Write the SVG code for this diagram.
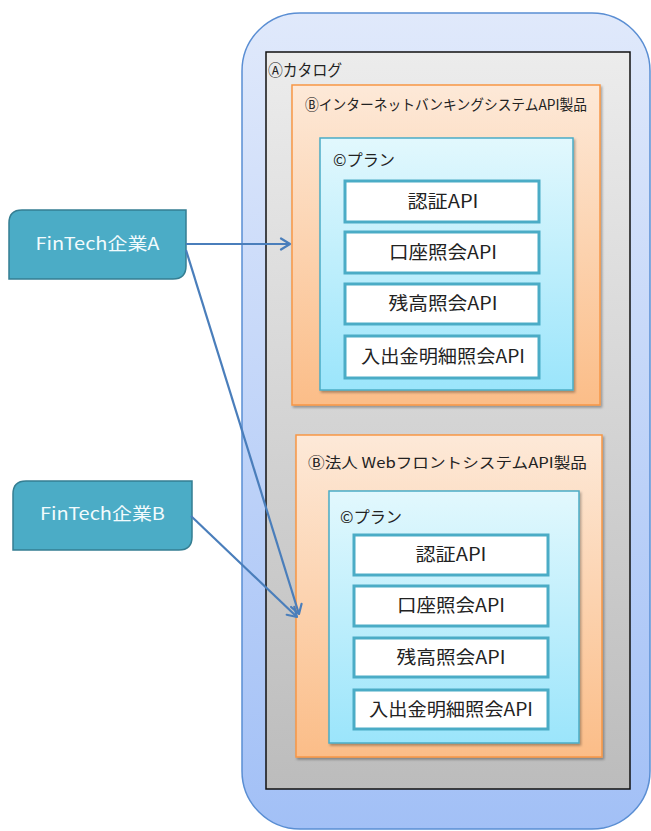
<svg xmlns="http://www.w3.org/2000/svg" width="651" height="831" viewBox="0 0 651 831">
<defs>
<linearGradient id="gBlue" x1="0" y1="0" x2="0" y2="1"><stop offset="0" stop-color="#e0e9fb"/><stop offset="1" stop-color="#a2c0f6"/></linearGradient>
<linearGradient id="gGray" x1="0" y1="0" x2="0" y2="1"><stop offset="0" stop-color="#ececec"/><stop offset="1" stop-color="#bcbcbc"/></linearGradient>
<linearGradient id="gOrange" x1="0" y1="0" x2="0" y2="1"><stop offset="0" stop-color="#fde9d8"/><stop offset="1" stop-color="#fbbd88"/></linearGradient>
<linearGradient id="gCyan" x1="0" y1="0" x2="0" y2="1"><stop offset="0" stop-color="#e2f8fd"/><stop offset="1" stop-color="#9be5fb"/></linearGradient>
<filter id="sh" x="-10%" y="-10%" width="120%" height="120%"><feDropShadow dx="1.5" dy="2" stdDeviation="1.2" flood-color="#000" flood-opacity="0.3"/></filter>
<marker id="arr" markerUnits="userSpaceOnUse" markerWidth="14" markerHeight="14" refX="11" refY="7" orient="auto"><path d="M2,1.5 L11,7 L2,12.5" fill="none" stroke="#4a7ebb" stroke-width="2.2" stroke-linecap="round" stroke-linejoin="round"/></marker>
</defs>
<style>
text{font-family:"Meiryo","Noto Sans CJK JP","Noto Sans",sans-serif;fill:#222}
.orange{fill:url(#gOrange);stroke:#f79646;stroke-width:1.5}
.cyan{fill:url(#gCyan);stroke:#4bacc6;stroke-width:1.5}
.api{fill:#fff;stroke:#4bacc6;stroke-width:3}
.apit{font-size:18px;text-anchor:middle}
.hd{font-size:14.5px}
.ft{fill:#4bacc6;stroke:#357e92;stroke-width:1.5}
.ftt{font-size:17px;fill:#f2fbfd;text-anchor:middle}
.conn{fill:none;stroke:#4a7ebb;stroke-width:2.2;marker-end:url(#arr)}
</style>
<g id="outer"><rect x="242" y="13" width="408" height="816" rx="58" ry="58" fill="url(#gBlue)" stroke="#5a8ed3" stroke-width="1.5"/></g>
<g id="catalog"><rect x="266" y="52" width="364" height="737" fill="url(#gGray)" stroke="#111" stroke-width="1.5"/><text x="268" y="76" font-size="15.5px" textLength="74" lengthAdjust="spacingAndGlyphs">Ⓐカタログ</text></g>
<g id="product1"><rect class="orange" x="292" y="85" width="308" height="320" filter="url(#sh)"/><text class="hd" x="305" y="110" textLength="282" lengthAdjust="spacingAndGlyphs">ⒷインターネットバンキングシステムAPI製品</text></g>
<g id="plan1"><rect class="cyan" x="320" y="138" width="253" height="252" filter="url(#sh)"/><text x="333" y="166" font-size="16px" textLength="62" lengthAdjust="spacingAndGlyphs">©プラン</text>
<g id="p1a1"><rect class="api" x="345" y="181" width="194" height="41"/><text class="apit" x="443" y="208" textLength="71" lengthAdjust="spacingAndGlyphs">認証API</text></g>
<g id="p1a2"><rect class="api" x="345" y="232" width="194" height="41"/><text class="apit" x="443" y="259" textLength="108" lengthAdjust="spacingAndGlyphs">口座照会API</text></g>
<g id="p1a3"><rect class="api" x="345" y="284" width="194" height="40"/><text class="apit" x="443" y="310" textLength="109" lengthAdjust="spacingAndGlyphs">残高照会API</text></g>
<g id="p1a4"><rect class="api" x="345" y="336" width="194" height="42"/><text class="apit" x="443" y="363" textLength="164" lengthAdjust="spacingAndGlyphs">入出金明細照会API</text></g>
</g>
<g id="product2"><rect class="orange" x="296" y="435" width="306" height="322" filter="url(#sh)"/><text class="hd" x="308" y="468" textLength="279" lengthAdjust="spacingAndGlyphs">Ⓑ法人 WebフロントシステムAPI製品</text></g>
<g id="plan2"><rect class="cyan" x="329" y="491" width="250" height="252" filter="url(#sh)"/><text x="340" y="523" font-size="16px" textLength="62" lengthAdjust="spacingAndGlyphs">©プラン</text>
<g id="p2a1"><rect class="api" x="354" y="535" width="194" height="40"/><text class="apit" x="451" y="561" textLength="71" lengthAdjust="spacingAndGlyphs">認証API</text></g>
<g id="p2a2"><rect class="api" x="354" y="586" width="194" height="40"/><text class="apit" x="451" y="612" textLength="108" lengthAdjust="spacingAndGlyphs">口座照会API</text></g>
<g id="p2a3"><rect class="api" x="354" y="638" width="194" height="39"/><text class="apit" x="451" y="664" textLength="109" lengthAdjust="spacingAndGlyphs">残高照会API</text></g>
<g id="p2a4"><rect class="api" x="354" y="690" width="194" height="39"/><text class="apit" x="451" y="716" textLength="164" lengthAdjust="spacingAndGlyphs">入出金明細照会API</text></g>
</g>
<g id="fintechA"><path class="ft" d="M22,210 H186 V266 Q186,279 173,279 H9 V223 Q9,210 22,210 Z"/><text class="ftt" x="97.5" y="250" textLength="124" lengthAdjust="spacingAndGlyphs">FinTech企業A</text></g>
<g id="fintechB"><path class="ft" d="M26,481 H192 V537 Q192,550 179,550 H13 V494 Q13,481 26,481 Z"/><text class="ftt" x="102.5" y="520" textLength="125" lengthAdjust="spacingAndGlyphs">FinTech企業B</text></g>
<g id="connectors">
<line class="conn" x1="186" y1="244" x2="290" y2="244"/>
<line class="conn" x1="186" y1="250" x2="299" y2="614"/>
<line class="conn" x1="191" y1="516" x2="297" y2="617"/>
</g>
</svg>
